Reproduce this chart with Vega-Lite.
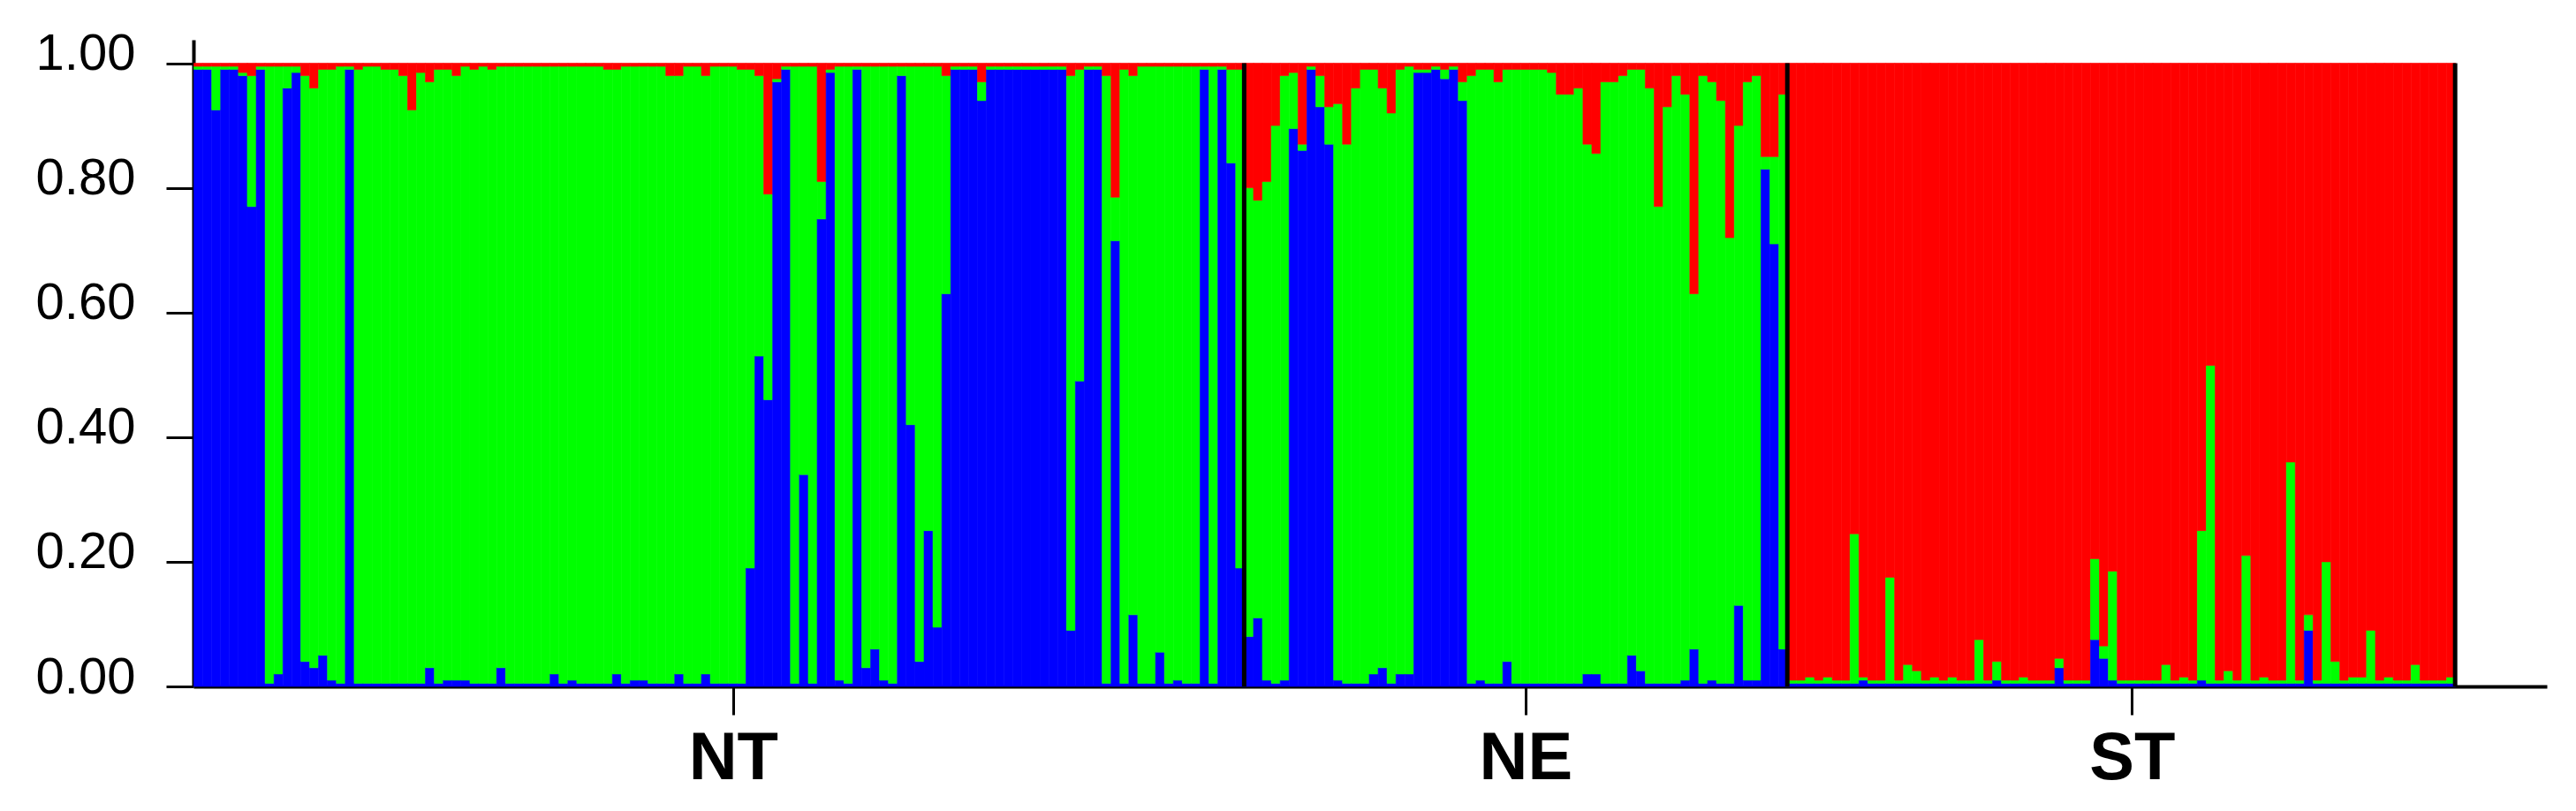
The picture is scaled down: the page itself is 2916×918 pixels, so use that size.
{
"$schema": "https://vega.github.io/schema/vega-lite/v6.json",
"width": 2664, "height": 732,
"autosize": {"type": "none"},
"padding": {"left": 219, "top": 45, "right": 33, "bottom": 141},
"background": "white",
"config": {"view": {"stroke": null}, "font": "Liberation Sans"},
"datasets": {
"q": [
{"i":0,"b":0.99,"g":0.005,"r":0.005},{"i":1,"b":0.99,"g":0.005,"r":0.005},{"i":2,"b":0.925,"g":0.07,"r":0.005},{"i":3,"b":0.99,"g":0.005,"r":0.005},{"i":4,"b":0.99,"g":0.005,"r":0.005},
{"i":5,"b":0.98,"g":0.005,"r":0.015},{"i":6,"b":0.77,"g":0.21,"r":0.02},{"i":7,"b":0.99,"g":0.005,"r":0.005},{"i":8,"b":0.005,"g":0.99,"r":0.005},{"i":9,"b":0.02,"g":0.975,"r":0.005},
{"i":10,"b":0.96,"g":0.035,"r":0.005},{"i":11,"b":0.985,"g":0.01,"r":0.005},{"i":12,"b":0.04,"g":0.94,"r":0.02},{"i":13,"b":0.03,"g":0.93,"r":0.04},{"i":14,"b":0.05,"g":0.94,"r":0.01},
{"i":15,"b":0.01,"g":0.98,"r":0.01},{"i":16,"b":0.005,"g":0.99,"r":0.005},{"i":17,"b":0.99,"g":0.005,"r":0.005},{"i":18,"b":0.005,"g":0.985,"r":0.01},{"i":19,"b":0.005,"g":0.99,"r":0.005},
{"i":20,"b":0.005,"g":0.99,"r":0.005},{"i":21,"b":0.005,"g":0.985,"r":0.01},{"i":22,"b":0.005,"g":0.985,"r":0.01},{"i":23,"b":0.005,"g":0.975,"r":0.02},{"i":24,"b":0.005,"g":0.92,"r":0.075},
{"i":25,"b":0.005,"g":0.98,"r":0.015},{"i":26,"b":0.03,"g":0.94,"r":0.03},{"i":27,"b":0.005,"g":0.985,"r":0.01},{"i":28,"b":0.01,"g":0.98,"r":0.01},{"i":29,"b":0.01,"g":0.97,"r":0.02},
{"i":30,"b":0.01,"g":0.985,"r":0.005},{"i":31,"b":0.005,"g":0.985,"r":0.01},{"i":32,"b":0.005,"g":0.99,"r":0.005},{"i":33,"b":0.005,"g":0.985,"r":0.01},{"i":34,"b":0.03,"g":0.965,"r":0.005},
{"i":35,"b":0.005,"g":0.99,"r":0.005},{"i":36,"b":0.005,"g":0.99,"r":0.005},{"i":37,"b":0.005,"g":0.99,"r":0.005},{"i":38,"b":0.005,"g":0.99,"r":0.005},{"i":39,"b":0.005,"g":0.99,"r":0.005},
{"i":40,"b":0.02,"g":0.975,"r":0.005},{"i":41,"b":0.005,"g":0.99,"r":0.005},{"i":42,"b":0.01,"g":0.985,"r":0.005},{"i":43,"b":0.005,"g":0.99,"r":0.005},{"i":44,"b":0.005,"g":0.99,"r":0.005},
{"i":45,"b":0.005,"g":0.99,"r":0.005},{"i":46,"b":0.005,"g":0.985,"r":0.01},{"i":47,"b":0.02,"g":0.97,"r":0.01},{"i":48,"b":0.005,"g":0.99,"r":0.005},{"i":49,"b":0.01,"g":0.985,"r":0.005},
{"i":50,"b":0.01,"g":0.985,"r":0.005},{"i":51,"b":0.005,"g":0.99,"r":0.005},{"i":52,"b":0.005,"g":0.99,"r":0.005},{"i":53,"b":0.005,"g":0.975,"r":0.02},{"i":54,"b":0.02,"g":0.96,"r":0.02},
{"i":55,"b":0.005,"g":0.99,"r":0.005},{"i":56,"b":0.005,"g":0.99,"r":0.005},{"i":57,"b":0.02,"g":0.96,"r":0.02},{"i":58,"b":0.005,"g":0.99,"r":0.005},{"i":59,"b":0.005,"g":0.99,"r":0.005},
{"i":60,"b":0.005,"g":0.99,"r":0.005},{"i":61,"b":0.005,"g":0.985,"r":0.01},{"i":62,"b":0.19,"g":0.8,"r":0.01},{"i":63,"b":0.53,"g":0.45,"r":0.02},{"i":64,"b":0.46,"g":0.33,"r":0.21},
{"i":65,"b":0.97,"g":0.005,"r":0.025},{"i":66,"b":0.99,"g":0.005,"r":0.005},{"i":67,"b":0.005,"g":0.99,"r":0.005},{"i":68,"b":0.34,"g":0.655,"r":0.005},{"i":69,"b":0.005,"g":0.99,"r":0.005},
{"i":70,"b":0.75,"g":0.06,"r":0.19},{"i":71,"b":0.985,"g":0.005,"r":0.01},{"i":72,"b":0.01,"g":0.985,"r":0.005},{"i":73,"b":0.005,"g":0.99,"r":0.005},{"i":74,"b":0.99,"g":0.005,"r":0.005},
{"i":75,"b":0.03,"g":0.965,"r":0.005},{"i":76,"b":0.06,"g":0.935,"r":0.005},{"i":77,"b":0.01,"g":0.985,"r":0.005},{"i":78,"b":0.005,"g":0.99,"r":0.005},{"i":79,"b":0.98,"g":0.015,"r":0.005},
{"i":80,"b":0.42,"g":0.575,"r":0.005},{"i":81,"b":0.04,"g":0.955,"r":0.005},{"i":82,"b":0.25,"g":0.745,"r":0.005},{"i":83,"b":0.095,"g":0.9,"r":0.005},{"i":84,"b":0.63,"g":0.35,"r":0.02},
{"i":85,"b":0.99,"g":0.005,"r":0.005},{"i":86,"b":0.99,"g":0.005,"r":0.005},{"i":87,"b":0.99,"g":0.005,"r":0.005},{"i":88,"b":0.94,"g":0.03,"r":0.03},{"i":89,"b":0.99,"g":0.005,"r":0.005},
{"i":90,"b":0.99,"g":0.005,"r":0.005},{"i":91,"b":0.99,"g":0.005,"r":0.005},{"i":92,"b":0.99,"g":0.005,"r":0.005},{"i":93,"b":0.99,"g":0.005,"r":0.005},{"i":94,"b":0.99,"g":0.005,"r":0.005},
{"i":95,"b":0.99,"g":0.005,"r":0.005},{"i":96,"b":0.99,"g":0.005,"r":0.005},{"i":97,"b":0.99,"g":0.005,"r":0.005},{"i":98,"b":0.09,"g":0.89,"r":0.02},{"i":99,"b":0.49,"g":0.5,"r":0.01},
{"i":100,"b":0.99,"g":0.005,"r":0.005},{"i":101,"b":0.99,"g":0.005,"r":0.005},{"i":102,"b":0.005,"g":0.975,"r":0.02},{"i":103,"b":0.715,"g":0.07,"r":0.215},{"i":104,"b":0.005,"g":0.985,"r":0.01},
{"i":105,"b":0.115,"g":0.865,"r":0.02},{"i":106,"b":0.005,"g":0.99,"r":0.005},{"i":107,"b":0.005,"g":0.99,"r":0.005},{"i":108,"b":0.055,"g":0.94,"r":0.005},{"i":109,"b":0.005,"g":0.99,"r":0.005},
{"i":110,"b":0.01,"g":0.985,"r":0.005},{"i":111,"b":0.005,"g":0.99,"r":0.005},{"i":112,"b":0.005,"g":0.99,"r":0.005},{"i":113,"b":0.99,"g":0.005,"r":0.005},{"i":114,"b":0.005,"g":0.99,"r":0.005},
{"i":115,"b":0.99,"g":0.005,"r":0.005},{"i":116,"b":0.84,"g":0.15,"r":0.01},{"i":117,"b":0.19,"g":0.8,"r":0.01},
{"i":118,"b":0.08,"g":0.72,"r":0.2},{"i":119,"b":0.11,"g":0.67,"r":0.22},{"i":120,"b":0.01,"g":0.8,"r":0.19},{"i":121,"b":0.005,"g":0.895,"r":0.1},{"i":122,"b":0.01,"g":0.97,"r":0.02},
{"i":123,"b":0.895,"g":0.09,"r":0.015},{"i":124,"b":0.86,"g":0.01,"r":0.13},{"i":125,"b":0.99,"g":0.005,"r":0.005},{"i":126,"b":0.93,"g":0.05,"r":0.02},{"i":127,"b":0.87,"g":0.06,"r":0.07},
{"i":128,"b":0.01,"g":0.925,"r":0.065},{"i":129,"b":0.005,"g":0.865,"r":0.13},{"i":130,"b":0.005,"g":0.955,"r":0.04},{"i":131,"b":0.005,"g":0.985,"r":0.01},{"i":132,"b":0.02,"g":0.97,"r":0.01},
{"i":133,"b":0.03,"g":0.93,"r":0.04},{"i":134,"b":0.005,"g":0.915,"r":0.08},{"i":135,"b":0.02,"g":0.97,"r":0.01},{"i":136,"b":0.02,"g":0.975,"r":0.005},{"i":137,"b":0.985,"g":0.005,"r":0.01},
{"i":138,"b":0.985,"g":0.005,"r":0.01},{"i":139,"b":0.99,"g":0.005,"r":0.005},{"i":140,"b":0.975,"g":0.015,"r":0.01},{"i":141,"b":0.99,"g":0.005,"r":0.005},{"i":142,"b":0.94,"g":0.03,"r":0.03},
{"i":143,"b":0.005,"g":0.975,"r":0.02},{"i":144,"b":0.01,"g":0.98,"r":0.01},{"i":145,"b":0.005,"g":0.985,"r":0.01},{"i":146,"b":0.005,"g":0.965,"r":0.03},{"i":147,"b":0.04,"g":0.95,"r":0.01},
{"i":148,"b":0.005,"g":0.985,"r":0.01},{"i":149,"b":0.005,"g":0.985,"r":0.01},{"i":150,"b":0.005,"g":0.985,"r":0.01},{"i":151,"b":0.005,"g":0.985,"r":0.01},{"i":152,"b":0.005,"g":0.98,"r":0.015},
{"i":153,"b":0.005,"g":0.945,"r":0.05},{"i":154,"b":0.005,"g":0.945,"r":0.05},{"i":155,"b":0.005,"g":0.955,"r":0.04},{"i":156,"b":0.02,"g":0.85,"r":0.13},{"i":157,"b":0.02,"g":0.835,"r":0.145},
{"i":158,"b":0.005,"g":0.965,"r":0.03},{"i":159,"b":0.005,"g":0.965,"r":0.03},{"i":160,"b":0.005,"g":0.975,"r":0.02},{"i":161,"b":0.05,"g":0.94,"r":0.01},{"i":162,"b":0.025,"g":0.965,"r":0.01},
{"i":163,"b":0.005,"g":0.955,"r":0.04},{"i":164,"b":0.005,"g":0.765,"r":0.23},{"i":165,"b":0.005,"g":0.925,"r":0.07},{"i":166,"b":0.005,"g":0.975,"r":0.02},{"i":167,"b":0.01,"g":0.94,"r":0.05},
{"i":168,"b":0.06,"g":0.57,"r":0.37},{"i":169,"b":0.005,"g":0.975,"r":0.02},{"i":170,"b":0.01,"g":0.96,"r":0.03},{"i":171,"b":0.005,"g":0.935,"r":0.06},{"i":172,"b":0.005,"g":0.715,"r":0.28},
{"i":173,"b":0.13,"g":0.77,"r":0.1},{"i":174,"b":0.01,"g":0.96,"r":0.03},{"i":175,"b":0.01,"g":0.97,"r":0.02},{"i":176,"b":0.83,"g":0.02,"r":0.15},{"i":177,"b":0.71,"g":0.14,"r":0.15},
{"i":178,"b":0.06,"g":0.89,"r":0.05},
{"i":179,"b":0.005,"g":0.005,"r":0.99},{"i":180,"b":0.005,"g":0.005,"r":0.99},{"i":181,"b":0.005,"g":0.01,"r":0.985},{"i":182,"b":0.005,"g":0.005,"r":0.99},{"i":183,"b":0.005,"g":0.01,"r":0.985},
{"i":184,"b":0.005,"g":0.005,"r":0.99},{"i":185,"b":0.005,"g":0.005,"r":0.99},{"i":186,"b":0.005,"g":0.24,"r":0.755},{"i":187,"b":0.01,"g":0.005,"r":0.985},{"i":188,"b":0.005,"g":0.005,"r":0.99},
{"i":189,"b":0.005,"g":0.005,"r":0.99},{"i":190,"b":0.005,"g":0.17,"r":0.825},{"i":191,"b":0.005,"g":0.005,"r":0.99},{"i":192,"b":0.005,"g":0.03,"r":0.965},{"i":193,"b":0.005,"g":0.02,"r":0.975},
{"i":194,"b":0.005,"g":0.005,"r":0.99},{"i":195,"b":0.005,"g":0.01,"r":0.985},{"i":196,"b":0.005,"g":0.005,"r":0.99},{"i":197,"b":0.005,"g":0.01,"r":0.985},{"i":198,"b":0.005,"g":0.005,"r":0.99},
{"i":199,"b":0.005,"g":0.005,"r":0.99},{"i":200,"b":0.005,"g":0.07,"r":0.925},{"i":201,"b":0.005,"g":0.005,"r":0.99},{"i":202,"b":0.01,"g":0.03,"r":0.96},{"i":203,"b":0.005,"g":0.005,"r":0.99},
{"i":204,"b":0.005,"g":0.005,"r":0.99},{"i":205,"b":0.005,"g":0.01,"r":0.985},{"i":206,"b":0.005,"g":0.005,"r":0.99},{"i":207,"b":0.005,"g":0.005,"r":0.99},{"i":208,"b":0.005,"g":0.005,"r":0.99},
{"i":209,"b":0.03,"g":0.015,"r":0.955},{"i":210,"b":0.005,"g":0.005,"r":0.99},{"i":211,"b":0.005,"g":0.005,"r":0.99},{"i":212,"b":0.005,"g":0.005,"r":0.99},{"i":213,"b":0.075,"g":0.13,"r":0.795},
{"i":214,"b":0.045,"g":0.02,"r":0.935},{"i":215,"b":0.01,"g":0.175,"r":0.815},{"i":216,"b":0.005,"g":0.005,"r":0.99},{"i":217,"b":0.005,"g":0.005,"r":0.99},{"i":218,"b":0.005,"g":0.005,"r":0.99},
{"i":219,"b":0.005,"g":0.005,"r":0.99},{"i":220,"b":0.005,"g":0.005,"r":0.99},{"i":221,"b":0.005,"g":0.03,"r":0.965},{"i":222,"b":0.005,"g":0.005,"r":0.99},{"i":223,"b":0.005,"g":0.01,"r":0.985},
{"i":224,"b":0.005,"g":0.005,"r":0.99},{"i":225,"b":0.01,"g":0.24,"r":0.75},{"i":226,"b":0.005,"g":0.51,"r":0.485},{"i":227,"b":0.005,"g":0.005,"r":0.99},{"i":228,"b":0.005,"g":0.02,"r":0.975},
{"i":229,"b":0.005,"g":0.005,"r":0.99},{"i":230,"b":0.005,"g":0.205,"r":0.79},{"i":231,"b":0.005,"g":0.005,"r":0.99},{"i":232,"b":0.005,"g":0.01,"r":0.985},{"i":233,"b":0.005,"g":0.005,"r":0.99},
{"i":234,"b":0.005,"g":0.005,"r":0.99},{"i":235,"b":0.005,"g":0.355,"r":0.64},{"i":236,"b":0.005,"g":0.005,"r":0.99},{"i":237,"b":0.09,"g":0.025,"r":0.885},{"i":238,"b":0.005,"g":0.005,"r":0.99},
{"i":239,"b":0.005,"g":0.195,"r":0.8},{"i":240,"b":0.005,"g":0.035,"r":0.96},{"i":241,"b":0.005,"g":0.005,"r":0.99},{"i":242,"b":0.005,"g":0.01,"r":0.985},{"i":243,"b":0.005,"g":0.01,"r":0.985},
{"i":244,"b":0.005,"g":0.085,"r":0.91},{"i":245,"b":0.005,"g":0.005,"r":0.99},{"i":246,"b":0.005,"g":0.01,"r":0.985},{"i":247,"b":0.005,"g":0.005,"r":0.99},{"i":248,"b":0.005,"g":0.005,"r":0.99},
{"i":249,"b":0.005,"g":0.03,"r":0.965},{"i":250,"b":0.005,"g":0.005,"r":0.99},{"i":251,"b":0.005,"g":0.005,"r":0.99},{"i":252,"b":0.005,"g":0.005,"r":0.99},{"i":253,"b":0.005,"g":0.01,"r":0.985}
],
"sep": [{"x":118},{"x":179},{"x":254}]
},
"layer": [
{
"data": {"name": "q"},
"transform": [{"fold": ["b","g","r"], "as": ["key","val"]}],
"mark": {"type": "bar", "binSpacing": 0, "strokeWidth": 0.6},
"encoding": {
"x": {"field": "i", "type": "quantitative", "bin": {"step": 1, "extent": [0,254]},
 "scale": {"domain": [0,264.3], "nice": false, "zero": false},
 "axis": {"title": null, "values": [60.6,149.6,217.7], "labelExpr": "datum.value < 100 ? 'NT' : (datum.value < 200 ? 'NE' : 'ST')",
  "labelFontSize": 76, "labelFontWeight": "bold", "labelFont": "Liberation Sans", "labelColor": "black",
  "tickColor": "black", "tickWidth": 3, "tickSize": 32, "labelPadding": 12, "domainColor": "black", "domainWidth": 4,
  "grid": false, "labelFlush": false, "labelOverlap": false}},
"y": {"field": "val", "type": "quantitative", "stack": "normalize",
 "scale": {"domain": [0,1.0376], "nice": false},
 "axis": {"title": null, "values": [0,0.2,0.4,0.6,0.8,1], "labelExpr": "format(datum.value, '.2f')",
  "labelFontSize": 58, "labelFont": "Liberation Sans", "labelColor": "black",
  "tickColor": "black", "tickWidth": 3, "tickSize": 31, "labelPadding": 35, "labelOffset": -10,
  "domainColor": "black", "domainWidth": 4, "grid": false, "labelFlush": false, "labelOverlap": false}},
"color": {"field": "key", "type": "nominal", "scale": {"domain": ["b","g","r"], "range": ["#0000FF","#00FF00","#FF0000"]}, "legend": null},
"stroke": {"field": "key", "type": "nominal", "scale": {"domain": ["b","g","r"], "range": ["#0000FF","#00FF00","#FF0000"]}, "legend": null},
"order": {"field": "key", "type": "ordinal", "sort": "ascending"}
}
},
{
"data": {"name": "sep"},
"mark": {"type": "rule", "color": "black", "strokeWidth": 5},
"encoding": {"x": {"field": "x", "type": "quantitative"}, "y": {"datum": 0}, "y2": {"datum": 1}}
}
]
}
